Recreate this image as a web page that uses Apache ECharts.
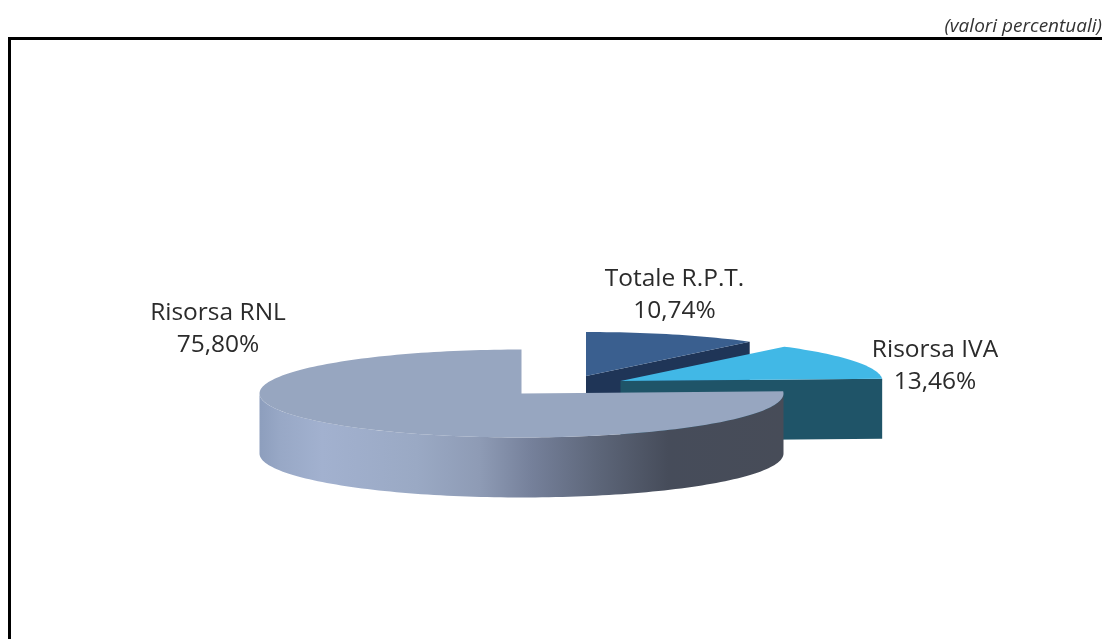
<!DOCTYPE html>
<html><head><meta charset="utf-8">
<style>html,body{margin:0;padding:0;background:#fff}#c{width:1102px;height:639px}</style>
<script src="https://cdn.jsdelivr.net/npm/echarts@6/dist/echarts.min.js"></script>
</head><body><div id="c"></div>
<script>
const categories = ['Totale R.P.T.', 'Risorsa IVA', 'Risorsa RNL'];
const values = [10.74, 13.46, 75.80];
const unitNote = '(valori percentuali)';

// pie geometry and per-slice look (layout only, angles come from values)
const RX = 262, RY = 44, DEPTH = 60;
const centres = [[586, 376], [620.5, 381], [521.5, 393.5]];
const labelAt = [[674.5, 295], [935, 366], [218, 329]];
const topCol = ['#3A5F8F', '#41B8E6', '#97A6C0'];
const sideCol = ['#1F3557', '#1F5468', '#97A6C0'];
const wallStops = [[0,'#8D9EBD'],[0.04,'#98A8C6'],[0.12,'#A2B1CF'],[0.3,'#9AA9C4'],[0.42,'#8E9BB5'],
  [0.52,'#75809A'],[0.65,'#5C6578'],[0.78,'#464C5A'],[1,'#474C58']];

const total = values.reduce((a, b) => a + b, 0);
const pt = (c, deg, dy) => {
  const r = deg * Math.PI / 180;
  return [c[0] + RX * Math.sin(r), c[1] - RY * Math.cos(r) + (dy || 0)];
};
function arc(c, a0, a1, dy) {
  const out = [], n = Math.max(2, Math.ceil((a1 - a0) / 1.5));
  for (let i = 0; i <= n; i++) out.push(pt(c, a0 + (a1 - a0) * i / n, dy));
  return out;
}
function renderItem(params, api) {
  const i = params.dataIndex, c = centres[i];
  let before = 0;
  for (let k = 0; k < i; k++) before += values[k];
  const a0 = before / total * 360, a1 = (before + api.value(0)) / total * 360;
  const children = [];
  if (a1 > 0 && a1 < 180) {
    const p = pt(c, a1);
    children.push({ type: 'polygon', shape: { points: [c, p, [p[0], p[1] + DEPTH], [c[0], c[1] + DEPTH]] },
      style: { fill: sideCol[i] } });
  }
  const w0 = Math.max(a0, 90), w1 = Math.min(a1, 270);
  if (w1 > w0) {
    const upper = arc(c, w0, w1, 0), lower = arc(c, w0, w1, DEPTH).reverse();
    children.push({ type: 'polygon', shape: { points: upper.concat(lower) },
      style: { fill: new echarts.graphic.LinearGradient(0, 0, 1, 0,
        wallStops.map(s => ({ offset: s[0], color: s[1] }))) } });
  }
  children.push({ type: 'polygon', shape: { points: [c].concat(arc(c, a0, a1, 0)) },
    style: { fill: topCol[i] } });
  children.push({ type: 'text', style: {
    text: categories[i] + '\n' + api.value(0).toFixed(2).replace('.', ',') + '%',
    x: labelAt[i][0], y: labelAt[i][1], align: 'center', verticalAlign: 'middle',
    font: '24.5px "Open Sans", sans-serif', lineHeight: 32, fill: '#2b2b2b' } });
  return { type: 'group', children };
}
const chart = echarts.init(document.getElementById('c'), null, { renderer: 'canvas' });
chart.setOption({
  animation: false,
  backgroundColor: '#fff',
  series: [{ type: 'custom', coordinateSystem: 'none', renderItem, clip: false,
    data: values.map(v => [v]) }],
  graphic: [
    { type: 'polyline', silent: true, shape: { points: [[9.5, 639], [9.5, 38.5], [1102, 38.5]] },
      style: { stroke: '#000', lineWidth: 3, fill: null } },
    { type: 'text', silent: true, style: { text: unitNote, x: 1102, y: 26.5, align: 'right', verticalAlign: 'middle',
      font: 'italic 19px "Open Sans", sans-serif', fill: '#333' } }
  ]
});
</script></body></html>
